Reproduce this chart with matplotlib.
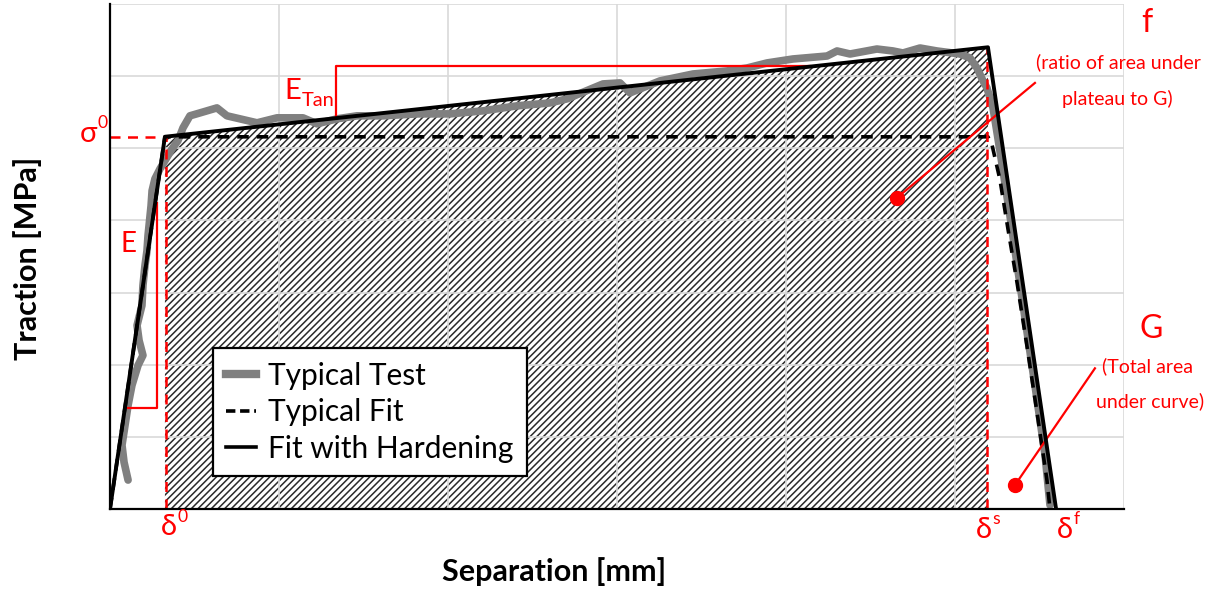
import numpy as np
import matplotlib
matplotlib.use("Agg")
import matplotlib.pyplot as plt
from matplotlib.lines import Line2D

# ---------------- data (grid units: x 0..6, y 0..7) ----------------
delta0 = 0.325      # separation at onset of plateau
sigma0 = 5.16       # plateau traction
delta_s = 5.195     # separation at end of plateau
sigma_peak = 6.40   # traction at end of hardening plateau
delta_f = 5.598     # final separation

hard_x = [0.0, delta0, delta_s, delta_f]
hard_y = [0.0, sigma0, sigma_peak, 0.0]

typ_x = [0.0, 0.325, 5.195, 5.219, 5.266, 5.314, 5.367, 5.426, 5.485, 5.544, 5.562]
typ_y = [0.0, 5.159, 5.159, 5.048, 4.564, 3.873, 3.140, 2.254, 1.342, 0.401, 0.0]

test_x = [0.107, 0.083, 0.071, 0.089, 0.107, 0.130, 0.166, 0.195, 0.172, 0.160,
          0.189, 0.195, 0.207, 0.219, 0.225, 0.231, 0.243, 0.249, 0.266, 0.296,
          0.325, 0.367, 0.402, 0.432, 0.473, 0.533, 0.633, 0.692, 0.769, 0.870,
          0.988, 1.083, 1.142, 1.225, 1.343, 1.462, 1.615, 1.817, 2.012, 2.207,
          2.408, 2.604, 2.704, 2.917, 3.018, 3.077, 3.254, 3.450, 3.651, 3.769,
          3.888, 4.041, 4.243, 4.302, 4.379, 4.538, 4.633, 4.692, 4.793, 4.893,
          5.030, 5.089, 5.130, 5.166, 5.189, 5.225, 5.266, 5.325, 5.396, 5.473,
          5.533, 5.562]
test_y = [0.401, 0.650, 0.885, 1.162, 1.438, 1.715, 1.992, 2.130, 2.337, 2.545,
          2.822, 3.098, 3.375, 3.582, 3.790, 3.928, 4.205, 4.412, 4.578, 4.716,
          4.827, 4.993, 5.104, 5.284, 5.450, 5.491, 5.560, 5.450, 5.408, 5.353,
          5.422, 5.422, 5.422, 5.339, 5.408, 5.450, 5.450, 5.477, 5.477, 5.519,
          5.588, 5.629, 5.685, 5.892, 5.906, 5.768, 5.934, 6.030, 6.072, 6.113,
          6.183, 6.238, 6.279, 6.349, 6.307, 6.376, 6.349, 6.321, 6.390, 6.349,
          6.307, 6.252, 6.113, 5.934, 5.837, 5.560, 4.965, 4.066, 2.932, 1.715,
          0.747, 0.055]

legend_labels = ["Typical Test", "Typical Fit", "Fit with Hardening"]

RED = "#ff0000"
FONT = ["Lato", "DejaVu Sans"]
plt.rcParams["font.family"] = FONT
plt.rcParams["hatch.linewidth"] = 1.1

fig = plt.figure(figsize=(12.13, 5.90), dpi=100)
ax = fig.add_axes([110 / 1213, 81 / 590, 1014 / 1213, 505 / 590])
ax.set_xlim(0, 6)
ax.set_ylim(0, 7)
ax.set_xticks(np.arange(0, 7))
ax.set_yticks(np.arange(0, 8))
ax.tick_params(length=0, labelbottom=False, labelleft=False)
ax.grid(True, color="#d9d9d9", lw=1.2, zorder=1.5)
ax.set_axisbelow(False)
for s in ["top", "right"]:
    ax.spines[s].set_visible(False)
for s in ["left", "bottom"]:
    ax.spines[s].set_color("black")
    ax.spines[s].set_linewidth(1.6)
    ax.spines[s].set_zorder(6)

# hatched area under the hardening fit between delta0 and delta_s
ax.fill([delta0, delta0, delta_s, delta_s], [0, sigma0, sigma_peak, 0],
        facecolor="white", edgecolor="#2a2a2a", hatch="/////", lw=0, zorder=1)
for gl in ax.get_xgridlines() + ax.get_ygridlines():
    gl.set_zorder(1.5)

# curves
ax.plot(test_x, test_y, color="#808080", lw=5.5, solid_capstyle="round",
        solid_joinstyle="round", zorder=3)
ax.plot(typ_x, typ_y, color="black", lw=2.6, ls=(0, (3.2, 2.2)), zorder=4)
ax.plot(hard_x, hard_y, color="black", lw=2.8, zorder=5)

# red dashed guide lines
ax.plot([0, delta0], [sigma0, sigma0], color=RED, lw=1.8, ls=(0, (4, 3)), zorder=4.5, clip_on=False)
ax.plot([0.331, 0.331], [0, sigma0], color=RED, lw=1.8, ls=(0, (4, 3)), zorder=4.5)
ax.plot([5.189, 5.189], [0, sigma_peak - 0.02], color=RED, lw=1.8, ls=(0, (4, 3)), zorder=4.5)

# slope brackets
ax.plot([0.107, 0.278, 0.278], [1.397, 1.397, 4.246], color=RED, lw=1.6, zorder=4.6)
ax.plot([1.337, 1.337, 4.142], [5.422, 6.141, 6.141], color=RED, lw=1.6, zorder=4.6)

# leaders with dots
ax.plot([5.473, 4.657], [5.906, 4.315], color=RED, lw=1.6, zorder=4.6, clip_on=False)
ax.plot([4.657], [4.315], "o", color=RED, ms=10, zorder=4.7)
ax.plot([5.828, 5.355], [1.950, 0.332], color=RED, lw=1.6, zorder=4.6, clip_on=False)
ax.plot([5.355], [0.332], "o", color=RED, ms=10, zorder=4.7)


def sym(x, y, base, script, size):
    ax.text(x, y, base, color=RED, fontsize=size, ha="center", va="center",
            family=FONT, clip_on=False, zorder=7)
    ax.annotate(script, (x, y), xytext=(size * 0.30, size * 0.36), textcoords="offset points",
                color=RED, fontsize=size * 0.6, ha="left", va="center",
                family=FONT, annotation_clip=False, zorder=7)


sym(-0.125, 5.20, "σ", "0", 21)
sym(0.350, -0.25, "δ", "0", 21)
sym(5.170, -0.29, "δ", "s", 21)
sym(5.650, -0.29, "δ", "f", 21)
ax.text(0.107, 3.68, "E", color=RED, fontsize=20, ha="center", va="center")
ax.text(1.08, 5.80, "E", color=RED, fontsize=21, ha="center", va="center")
ax.annotate("Tan", (1.08, 5.80), xytext=(7, -7), textcoords="offset points",
            color=RED, fontsize=14.5, ha="left", va="center")

ax.text(6.136, 6.74, "f", color=RED, fontsize=23, ha="center", va="center", clip_on=False)
ax.text(5.970, 6.19, "(ratio of area under", color=RED, fontsize=14, ha="center", va="center", clip_on=False)
ax.text(5.962, 5.68, "plateau to G)", color=RED, fontsize=14, ha="center", va="center", clip_on=False)
ax.text(6.160, 2.50, "G", color=RED, fontsize=23, ha="center", va="center", clip_on=False)
ax.text(6.142, 1.98, "(Total area", color=RED, fontsize=14, ha="center", va="center", clip_on=False)
ax.text(6.154, 1.49, "under curve)", color=RED, fontsize=14, ha="center", va="center", clip_on=False)

# axis labels
fig.text(554 / 1213, 1 - 572 / 590, "Separation [mm]", fontsize=22, fontweight="bold",
         ha="center", va="center")
fig.text(28 / 1213, 1 - 258 / 590, "Traction [MPa]", fontsize=22, fontweight="bold",
         ha="center", va="center", rotation=90)

# legend
handles = [Line2D([], [], color="#808080", lw=6),
           Line2D([], [], color="black", lw=2.6, ls=(0, (2.6, 1.3))),
           Line2D([], [], color="black", lw=2.6)]
leg = ax.legend(handles, legend_labels, loc="lower left", bbox_to_anchor=(0.1016, 0.0653),
                borderaxespad=0, fontsize=21.5, handlelength=1.0, handletextpad=0.4,
                labelspacing=0.28, borderpad=0.45, fancybox=False, framealpha=1,
                edgecolor="black")
leg.get_frame().set_linewidth(1.6)
leg.set_zorder(8)

fig.savefig("out.png", dpi=100)
